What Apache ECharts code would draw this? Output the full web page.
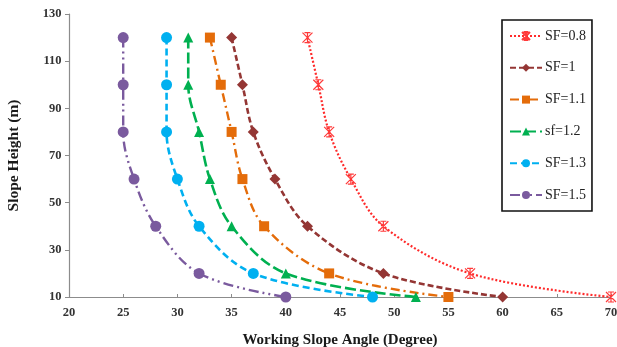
<!DOCTYPE html>
<html>
<head>
<meta charset="utf-8">
<script src="https://cdn.jsdelivr.net/npm/echarts@6/dist/echarts.min.js"></script>
<style>
  html, body { margin: 0; padding: 0; background: #fff; }
  #chart { width: 617px; height: 347px; }
</style>
</head>
<body>
<div id="chart"></div>
<script>
// Slope height (m) at each design point
const heights = [120, 100, 80, 60, 40, 20, 10];

// Working slope angle (degree) for each safety factor
const sf08 = [42, 43, 44, 46, 49, 57, 70];
const sf10 = [35, 36, 37, 39, 42, 49, 60];
const sf11 = [33, 34, 35, 36, 38, 44, 55];
const sf12 = [31, 31, 32, 33, 35, 40, 52];
const sf13 = [29, 29, 29, 30, 32, 37, 48];
const sf15 = [25, 25, 25, 26, 28, 32, 40];

const seriesNames = ['SF=0.8', 'SF=1', 'SF=1.1', 'sf=1.2', 'SF=1.3', 'SF=1.5'];

// Axis tick values
const yTicks = [10, 30, 50, 70, 90, 110, 130];
const xTicks = [20, 25, 30, 35, 40, 45, 50, 55, 60, 65, 70];

const pairs = (xs) => xs.map((x, i) => [x, heights[i]]);

const starPath = 'path://M0,0L10,10M10,0L0,10M2,0L8,0M2,10L8,10M5,0L5,10';

const serif = '"Liberation Serif", "DejaVu Serif", serif';

function makeSeries(name, values, color, dash, width, symbol, size, extra) {
  return Object.assign({
    name: name,
    type: 'line',
    smooth: 0.35,
    data: pairs(values),
    symbol: symbol,
    symbolSize: size,
    showSymbol: true,
    lineStyle: { color: color, width: width, type: dash, cap: 'butt' },
    itemStyle: { color: color, borderColor: color, borderWidth: 0 },
    emphasis: { disabled: true },
    z: 2
  }, extra || {});
}

const series = [
  makeSeries(seriesNames[0], sf08, '#ff2b2b', [2, 2], 2.2, starPath, 10,
    { itemStyle: { color: 'transparent', borderColor: '#ff3a3a', borderWidth: 1.2 } }),
  makeSeries(seriesNames[1], sf10, '#943634', [6, 3], 2.6, 'diamond', 11),
  makeSeries(seriesNames[2], sf11, '#e46c0a', [9, 4, 2, 4], 2.4, 'rect', 10),
  makeSeries(seriesNames[3], sf12, '#00b050', [11, 4], 2.6, 'triangle', 10),
  makeSeries(seriesNames[4], sf13, '#00b0f0', [7, 4], 2.6, 'circle', 11),
  makeSeries(seriesNames[5], sf15, '#7a5a9e', [10, 4, 2, 4, 2, 4], 2.4, 'circle', 11)
];

const chart = echarts.init(document.getElementById('chart'), null, { renderer: 'canvas' });

chart.setOption({
  animation: false,
  backgroundColor: '#ffffff',
  grid: { left: 69, right: 6, top: 14, bottom: 50, containLabel: false, outerBoundsMode: 'none' },
  legend: {
    orient: 'vertical',
    left: 502,
    top: 20,
    width: 86,
    itemWidth: 32,
    itemHeight: 10,
    itemGap: 17.8,
    padding: [9, 6, 9, 7],
    borderColor: '#111',
    borderWidth: 1.6,
    backgroundColor: '#fff',
    data: seriesNames,
    textStyle: { fontFamily: serif, fontSize: 14, color: '#222', padding: [0, 0, 0, -2] }
  },
  xAxis: {
    type: 'value',
    min: 20,
    max: 70,
    interval: 5,
    name: 'Working Slope Angle (Degree)',
    nameLocation: 'middle',
    nameGap: 35.5,
    nameTextStyle: { fontFamily: serif, fontWeight: 'bold', fontSize: 15, color: '#1a1a1a' },
    axisLine: { show: true, lineStyle: { color: '#8c8c8c', width: 1.2 } },
    axisTick: { show: true, inside: true, length: 3, lineStyle: { color: '#8c8c8c' } },
    axisLabel: {
      fontFamily: serif, fontWeight: 'bold', fontSize: 12.5, color: '#333', margin: 9,
      customValues: xTicks
    },
    splitLine: { show: false }
  },
  yAxis: {
    type: 'value',
    min: 10,
    max: 130,
    interval: 10,
    name: 'Slope Height (m)',
    nameLocation: 'middle',
    nameGap: 47,
    nameRotate: 90,
    nameTextStyle: { fontFamily: serif, fontWeight: 'bold', fontSize: 15.5, color: '#1a1a1a' },
    axisLine: { show: true, lineStyle: { color: '#8c8c8c', width: 1.2 } },
    axisTick: { show: true, length: 4, lineStyle: { color: '#8c8c8c' }, customValues: yTicks },
    axisLabel: {
      fontFamily: serif, fontWeight: 'bold', fontSize: 12.5, color: '#333', margin: 7.5,
      customValues: yTicks
    },
    splitLine: { show: false }
  },
  series: series
});
</script>
</body>
</html>
